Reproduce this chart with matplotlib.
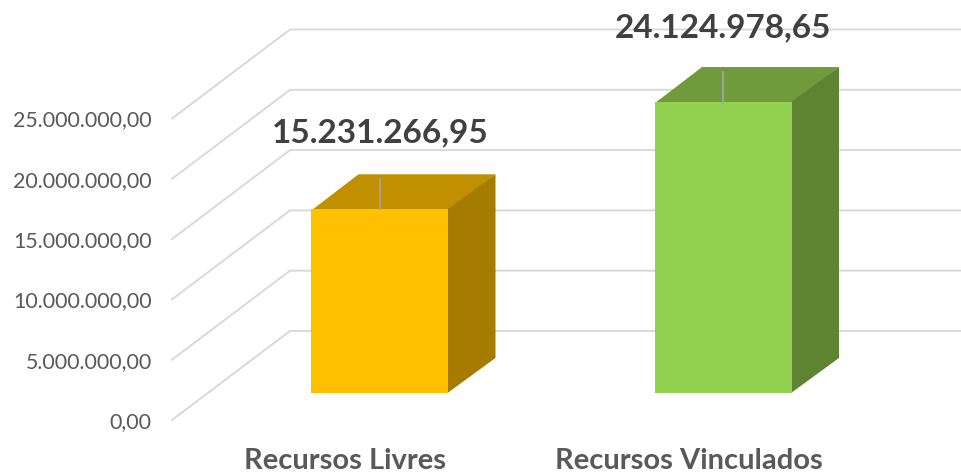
import matplotlib
matplotlib.use("Agg")
import matplotlib.pyplot as plt
from matplotlib.patches import Polygon

categories = ["Recursos Livres", "Recursos Vinculados"]
values = [15231266.95, 24124978.65]
ticks = [0, 5000000, 10000000, 15000000, 20000000, 25000000]

front_colors = ["#FFC000", "#92D050"]
top_colors = ["#C09000", "#6F9B3C"]
side_colors = ["#A67C00", "#5E8431"]


def fmt(v):
    return f"{v:,.2f}".replace(",", "X").replace(".", ",").replace("X", ".")


plt.rcParams["font.family"] = ["Lato", "DejaVu Sans"]

W, H = 961, 473
fig = plt.figure(figsize=(W / 100, H / 100), dpi=100)
# axes runs from the front end of the wall lines to the right edge, y=0 at the wall's front floor
ax = fig.add_axes([172 / W, (H - 420) / H, (W - 172) / W, 420 / H])

px = 60.3 / 5000000  # pixels per unit of value
ax.set_xlim(172, W)
ax.set_ylim(0, 420 / px)

# walls
wall_dx, wall_dy = 118, 89 / px
for t in ticks:
    ax.plot([172, 172 + wall_dx, W], [t, t + wall_dy, t + wall_dy], color="#D9D9D9", lw=1.4, zorder=1, clip_on=False)

# bars
centers = [380, 723.5]
bar_w = 137
floor = 27 / px
depth_x, depth_y = 47, 35 / px
ax.bar(centers, values, width=bar_w, bottom=floor, color=front_colors, zorder=3)
label_up = [76, 74]
for c, v, tc, sc, up in zip(centers, values, top_colors, side_colors, label_up):
    x0, x1 = c - bar_w / 2, c + bar_w / 2
    top = floor + v
    # top and side go a pixel under the front face so no wall line shows at the seam
    ax.add_patch(Polygon([(x0, top - 1 / px), (x1, top - 1 / px), (x1 + depth_x, top + depth_y), (x0 + depth_x, top + depth_y)],
                         color=tc, lw=0, zorder=2))
    ax.add_patch(Polygon([(x1 - 1, floor), (x1 + depth_x, floor + depth_y), (x1 + depth_x, top + depth_y), (x1 - 1, top)],
                         color=sc, lw=0, zorder=2))
    # leader line from the label
    ax.plot([c, c], [top, top + 30 / px], color="#A6A6A6", lw=1.2, zorder=4)
    ax.text(c, top + up / px, fmt(v), ha="center", va="center", fontsize=24, fontweight="bold", color="#404040", zorder=5)

ax.set_yticks(ticks, [fmt(t) for t in ticks])
# the category labels sit left of the bars because of the perspective
ax.set_xticks([c - 35 for c in centers], categories)
ax.tick_params(axis="y", length=0, pad=14.5, labelsize=15.4, labelcolor="#595959")
ax.tick_params(axis="x", length=0, pad=20.5, labelsize=21)
for lab in ax.get_xticklabels():
    lab.set_fontweight("bold")
    lab.set_color("#595959")
for s in ax.spines.values():
    s.set_visible(False)
ax.patch.set_alpha(0)

fig.savefig("out.png", dpi=100)
